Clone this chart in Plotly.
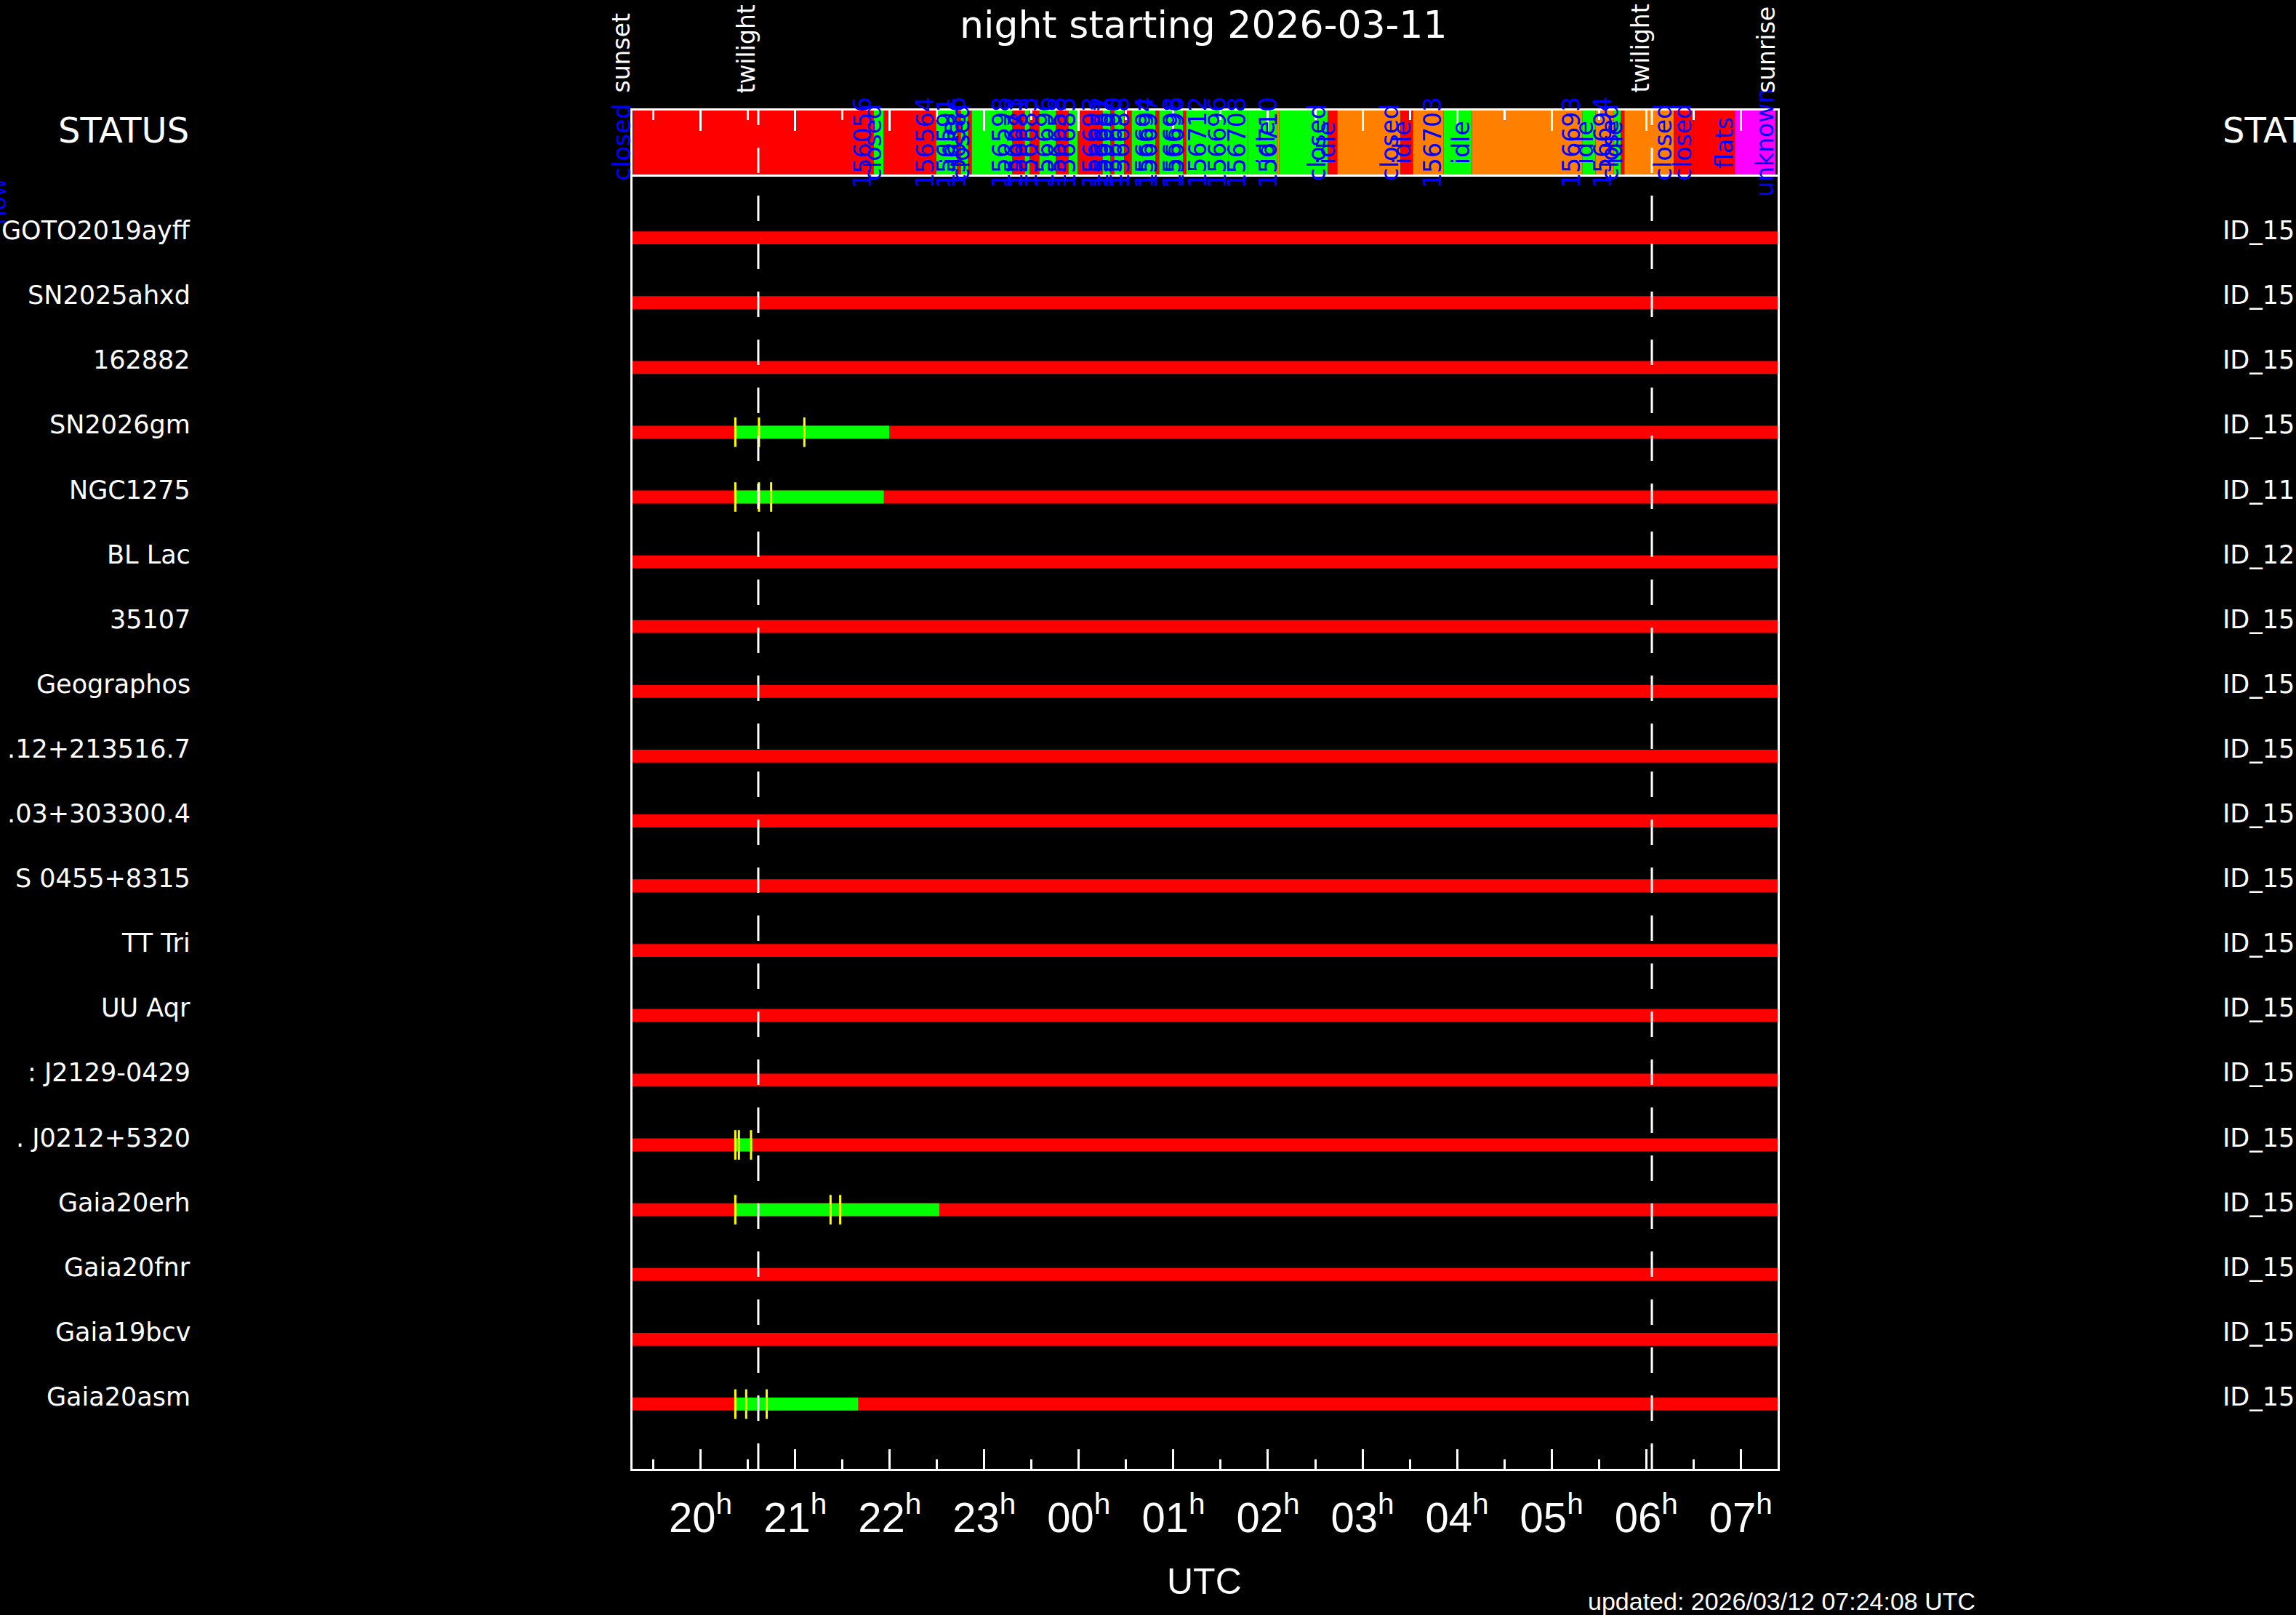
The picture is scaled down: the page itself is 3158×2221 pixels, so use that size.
import plotly.graph_objects as go

# ---------------- data ----------------
night_date = "2026-03-11"
updated_text = "updated: 2026/03/12 07:24:08 UTC"

target_names = ["GOTO2019ayff", "SN2025ahxd", "162882", "SN2026gm", "NGC1275", "BL Lac",
                "35107", "Geographos", ".12+213516.7", ".03+303300.4", "S 0455+8315",
                "TT Tri", "UU Aqr", ": J2129-0429", ". J0212+5320", "Gaia20erh",
                "Gaia20fnr", "Gaia19bcv", "Gaia20asm"]
target_ids = ["ID_15", "ID_15", "ID_15", "ID_15", "ID_11", "ID_12", "ID_15", "ID_15", "ID_15",
              "ID_15", "ID_15", "ID_15", "ID_15", "ID_15", "ID_15", "ID_15", "ID_15", "ID_15", "ID_15"]

# times in decimal hours UTC counted from 00h of the night's start date
sunset = 19.28
sunrise = 31.39
twilight_times = [20.610, 30.060]
event_names = ["sunset", "twilight", "twilight", "sunrise"]
event_times = [sunset, twilight_times[0], twilight_times[1], sunrise]

# observed (green) intervals per target
obs_target = ["SN2026gm", "NGC1275", ". J0212+5320", "Gaia20erh", "Gaia20asm"]
obs_start = [20.367, 20.367, 20.367, 20.367, 20.367]
obs_end = [21.994, 21.937, 20.546, 22.524, 21.666]

# exposure marks (yellow ticks)
mark_target = ["SN2026gm"] * 3 + ["NGC1275"] * 3 + [". J0212+5320"] * 3 + ["Gaia20erh"] * 3 + ["Gaia20asm"] * 3
mark_time = [20.367, 20.617, 21.097,
             20.367, 20.617, 20.746,
             20.367, 20.405, 20.533,
             20.367, 21.374, 21.476,
             20.367, 20.482, 20.699]

# telescope status timeline
status_start = [19.285, 21.830, 21.937, 22.491, 22.714, 22.752, 22.829, 22.867, 23.298, 23.428,
                23.482, 23.582, 23.759, 23.890, 23.990, 24.251, 24.335, 24.374, 24.481, 24.558,
                24.812, 24.850, 25.104, 25.135, 25.370, 25.580, 25.790, 26.096, 26.119, 26.634,
                26.734, 27.403, 27.533, 27.856, 28.156, 29.324, 29.463, 29.655, 29.732, 29.770,
                30.293, 30.500, 30.939]
status_end = status_start[1:] + [31.369]
status_state = ["closed", "open", "closed", "open", "closed", "open", "closed", "open", "closed", "open",
                "closed", "open", "closed", "open", "closed", "open", "closed", "open", "closed", "open",
                "closed", "open", "closed", "open", "open", "open", "open", "waiting", "open", "closed",
                "waiting", "closed", "waiting", "open", "waiting", "open", "waiting", "open", "closed", "waiting",
                "closed", "flats", "unknown"]
status_label = ["156056", "closed", "156564", "156591", "idle", "156586", "closed", "156598", "156673", "156681",
                "156683", "156696", "156658", "156685", "156693", "156681", "156687", "156690", "156688", "156694",
                "156697", "156698", "156696", "156712", "156696", "156708", "idle", "156710", "closed", "idle",
                "closed", "idle", "156703", "idle", "156693", "idle", "156694", "closed", "idle", "closed",
                "closed", "flats", "unknown"]
first_status_label = "closed"

hour_ticks = list(range(20, 32))
hour_labels = ["%02d<sup>h</sup>" % (h % 24) for h in hour_ticks]
half_ticks = [h + 0.5 for h in range(19, 31)]

# ---------------- style ----------------
state_colors = {"closed": "#ff0000", "open": "#00ff00", "waiting": "#ff8000",
                "flats": "#ff0000", "unknown": "#ff00ff"}
W, H = 3158, 2221
L, R, T, B = 870, 2445, 152, 2020
PW, PH = R - L, B - T


def px_x(x):
    return (x - L) / PW


def px_y(y):
    return (B - y) / PH


FONT = "DejaVu Sans"
NARROW = "Liberation Sans"

row_y = {n: i + 1 for i, n in enumerate(target_names)}

fig = go.Figure()

# status bar
fig.add_trace(go.Bar(
    orientation="h", y=[0] * len(status_start),
    x=[e - s for s, e in zip(status_start, status_end)], base=status_start,
    width=1, marker=dict(color=[state_colors[s] for s in status_state], line=dict(width=0)),
    xaxis="x2", yaxis="y2", showlegend=False, hoverinfo="skip"))

# visibility windows (red)
fig.add_trace(go.Bar(
    orientation="h", y=[row_y[n] for n in target_names],
    x=[sunrise - sunset] * len(target_names), base=[sunset] * len(target_names),
    width=0.2, marker=dict(color="#ff0000", line=dict(width=0)),
    showlegend=False, hoverinfo="skip"))

# observed intervals (green)
fig.add_trace(go.Bar(
    orientation="h", y=[row_y[n] for n in obs_target],
    x=[e - s for s, e in zip(obs_start, obs_end)], base=obs_start,
    width=0.2, marker=dict(color="#00ff00", line=dict(width=0)),
    showlegend=False, hoverinfo="skip"))

# exposure marks
fig.add_trace(go.Scatter(
    x=mark_time, y=[row_y[n] for n in mark_target], mode="markers",
    marker=dict(symbol="line-ns", size=29, line=dict(color="#ffff00", width=3)),
    showlegend=False, hoverinfo="skip"))

# twilight dashed lines
for t in twilight_times:
    fig.add_shape(type="line", xref="x", yref="paper", x0=t, x1=t, y0=0, y1=1,
                  line=dict(color="white", width=3, dash="35px,31px"), layer="above")

ann = []
# status labels
ann.append(dict(x=sunset, y=0, xref="x", yref="y2", text=first_status_label, textangle=-90,
                xanchor="right", yanchor="middle", xshift=6, showarrow=False,
                font=dict(family=FONT, size=33, color="#0000ff")))
for e, lab in zip(status_end, status_label):
    ann.append(dict(x=e, y=0, xref="x", yref="y2", text=lab, textangle=-90,
                    xanchor="right", yanchor="middle", xshift=6, showarrow=False,
                    font=dict(family=FONT, size=33, color="#0000ff")))
# event labels
for name, t in zip(event_names, event_times):
    ann.append(dict(x=t, y=px_y(130), xref="x", yref="paper", text=name, textangle=-90,
                    xanchor="right", yanchor="bottom", xshift=6, showarrow=False,
                    font=dict(family=FONT, size=33, color="white")))
# target names / ids
for n in target_names:
    ann.append(dict(x=px_x(264), y=row_y[n], xref="paper", yref="y", text=n,
                    xanchor="right", yanchor="middle", yshift=10, showarrow=False,
                    font=dict(family=FONT, size=35, color="white")))
for n, i in zip(target_names, target_ids):
    ann.append(dict(x=px_x(3055), y=row_y[n], xref="paper", yref="y", text=i,
                    xanchor="left", yanchor="middle", yshift=10, showarrow=False,
                    font=dict(family=FONT, size=35, color="white")))
ann.append(dict(x=px_x(262), y=0, xref="paper", yref="y2", text="STATUS", xanchor="right",
                yanchor="middle", yshift=17, showarrow=False, font=dict(family=FONT, size=48, color="white")))
ann.append(dict(x=px_x(3055), y=0, xref="paper", yref="y2", text="STAT", xanchor="left",
                yanchor="middle", yshift=17, showarrow=False, font=dict(family=FONT, size=48, color="white")))
ann.append(dict(x=px_x(17), y=px_y(277), xref="paper", yref="paper", text="now", textangle=-90,
                xanchor="right", yanchor="middle", showarrow=False,
                font=dict(family=FONT, size=31, color="#0000ff")))
# title, UTC, updated
ann.append(dict(x=px_x(1655), y=px_y(34), xref="paper", yref="paper", text="night starting " + night_date,
                xanchor="center", yanchor="middle", showarrow=False,
                font=dict(family=FONT, size=52, color="white")))
ann.append(dict(x=px_x(1656), y=px_y(2175), xref="paper", yref="paper", text="UTC",
                xanchor="center", yanchor="middle", showarrow=False,
                font=dict(family=NARROW, size=50, color="white")))
ann.append(dict(x=px_x(2182), y=px_y(2202), xref="paper", yref="paper", text=updated_text,
                xanchor="left", yanchor="middle", showarrow=False,
                font=dict(family=NARROW, size=34, color="white")))

axis_common = dict(showgrid=False, zeroline=False, showline=True, mirror=True,
                   linecolor="white", linewidth=3)

fig.update_layout(
    width=W, height=H, margin=dict(l=L, r=W - R, t=T, b=H - B, pad=0),
    paper_bgcolor="black", plot_bgcolor="black", barmode="overlay",
    showlegend=False, annotations=ann,
    xaxis=dict(domain=[0, 1], anchor="y", range=[sunset, sunrise], **axis_common,
               ticks="inside", ticklen=27, tickwidth=3, tickcolor="white",
               tickmode="array", tickvals=hour_ticks, ticktext=hour_labels,
               tickfont=dict(family=NARROW, size=58, color="white"), ticklabelstandoff=14,
               minor=dict(ticks="inside", ticklen=13, tickwidth=3, tickcolor="white",
                          tickmode="array", tickvals=half_ticks)),
    yaxis=dict(domain=[0, px_y(238)], anchor="x", range=[20, 0], **axis_common,
               ticks="", showticklabels=False),
    xaxis2=dict(domain=[0, 1], anchor="y2", matches="x", side="top", **axis_common,
                ticks="inside", ticklen=28, tickwidth=3, tickcolor="white",
                tickmode="array", tickvals=hour_ticks, showticklabels=False,
                minor=dict(ticks="inside", ticklen=13, tickwidth=3, tickcolor="white",
                           tickmode="array", tickvals=half_ticks)),
    yaxis2=dict(domain=[px_y(240), 1], anchor="x2", range=[-0.5, 0.5], **axis_common,
                ticks="", showticklabels=False),
)

fig.write_html("out.html", config={"displayModeBar": False},
               post_script="document.body.style.margin='0';document.body.style.overflow='hidden';")
